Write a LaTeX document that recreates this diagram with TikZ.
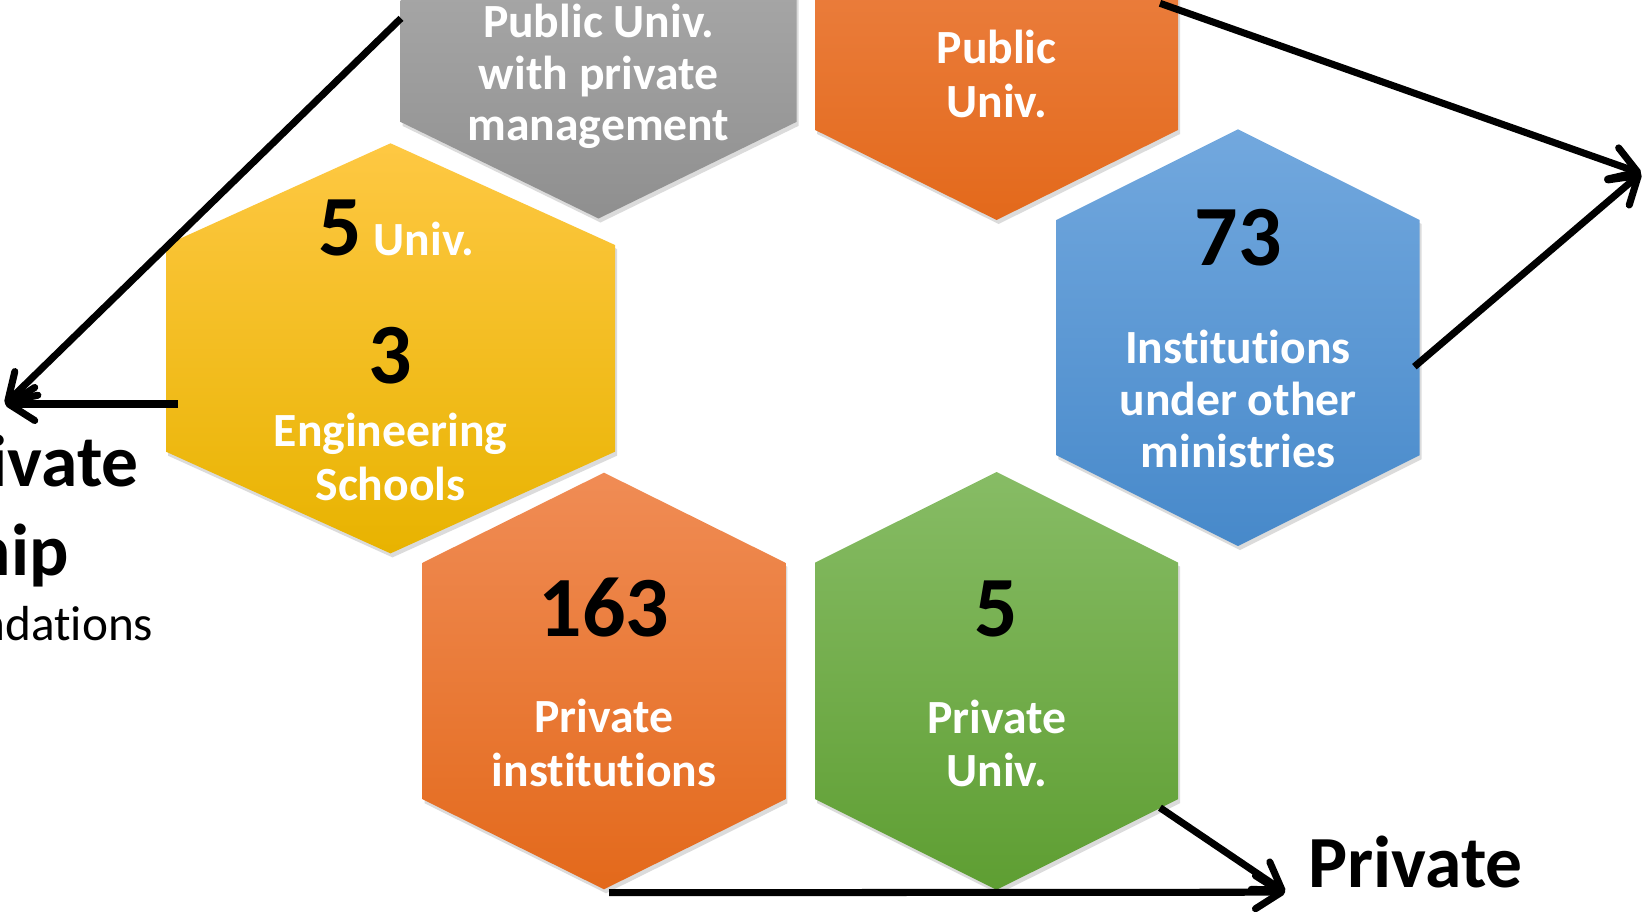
\documentclass[tikz,border=0pt]{standalone}
\usepackage{fontspec}
\setmainfont{Carlito}[Ligatures={NoCommon}]
\usetikzlibrary{arrows.meta}
\definecolor{grayT}{HTML}{BBBBBB}
\definecolor{grayB}{HTML}{8F8F8F}
\definecolor{orT}{HTML}{F08C55}
\definecolor{orM}{HTML}{F47F31}
\definecolor{orB}{HTML}{E3691B}
\definecolor{yeT}{HTML}{FEC843}
\definecolor{yeM}{HTML}{FFC505}
\definecolor{yeB}{HTML}{E8B300}
\definecolor{blT}{HTML}{72A8DE}
\definecolor{blM}{HTML}{5C9BD6}
\definecolor{blB}{HTML}{4789CA}
\definecolor{grT}{HTML}{87BC65}
\definecolor{grM}{HTML}{71AD47}
\definecolor{grB}{HTML}{5E9E32}
\tikzset{
  hexagon/.style n args={5}{insert path={(#1,#2) -- (#1+#3,#2+#4) -- (#1+#3,#2+#4+#5) -- (#1,#2+2*#4+#5) -- (#1-#3,#2+#4+#5) -- (#1-#3,#2+#4) -- cycle}},
  hexshadow/.style={fill=black, fill opacity=0.14, xshift=0.02cm, yshift=-0.04cm},
  lab/.style={font=\bfseries\fontsize{13.55}{16}\selectfont, text=white, inner sep=0pt, anchor=base},
  num/.style={font=\bfseries\fontsize{24.4}{28}\selectfont, text=black, inner sep=0pt, anchor=base},
  head/.style={font=\bfseries\fontsize{20.9}{24}\selectfont, text=black, inner sep=0pt},
  sub/.style={font=\fontsize{14}{16}\selectfont, text=black, inner sep=0pt},
  conn/.style={line width=2pt, -{Straight Barb[length=0.26cm,width=0.33cm,round]}},
}
\begin{document}
\begin{tikzpicture}[x=0.01cm, y=-0.01cm]
\useasboundingbox (0,0) rectangle (1644,912);
\fill[white] (0,0) rectangle (1644,912);
% shadows
\path[hexshadow, hexagon={598.5}{-224.7}{198}{96.6}{250}];
\path[hexshadow, hexagon={996.6}{-196.6}{181.4}{90}{236.6}];
\path[hexshadow, hexagon={390.5}{143.3}{224.5}{101.7}{206.7}];
\path[hexshadow, hexagon={1238}{129.3}{181.6}{90.7}{235.3}];
\path[hexshadow, hexagon={604}{472.7}{181.4}{90}{236.6}];
\path[hexshadow, hexagon={996.6}{472}{181.4}{90.6}{236.6}];
% hexagons
\shade[top color=grayT, bottom color=grayB, hexagon={598.5}{-224.7}{198}{96.6}{250}];
\shade[top color=orT, middle color=orM, bottom color=orB, hexagon={996.6}{-196.6}{181.4}{90}{236.6}];
\shade[top color=yeT, middle color=yeM, bottom color=yeB, hexagon={390.5}{143.3}{224.5}{101.7}{206.7}];
\shade[top color=blT, middle color=blM, bottom color=blB, hexagon={1238}{129.3}{181.6}{90.7}{235.3}];
\shade[top color=orT, middle color=orM, bottom color=orB, hexagon={604}{472.7}{181.4}{90}{236.6}];
\shade[top color=grT, middle color=grM, bottom color=grB, hexagon={996.6}{472}{181.4}{90.6}{236.6}];
% gray texts
\node[lab] (g1) at (598.5,37.5) {Public Univ.};
\node[lab] (g2) at (598.5,89.3) {with private};
\node[lab] (g3) at (598.5,140) {management};
% orange top
\node[lab] (o1) at (996.6,63.3) {Public};
\node[lab] (o2) at (996.6,117.3) {Univ.};
% yellow
\node[num] (y5) at (340,255) {5};
\node[lab, anchor=base west] (yu) at (373,255) {Univ.};
\node[num] (y3) at (390.5,383.3) {3};
\node[lab] (y1) at (390.5,446.7) {Engineering};
\node[lab] (y2) at (390.5,500) {Schools};
% blue
\node[num] (b73) at (1238,265) {73};
\node[lab] (b1) at (1238,363.3) {Institutions};
\node[lab] (b2) at (1238,415.5) {under other};
\node[lab] (b3) at (1238,467.6) {ministries};
% orange bottom
\node[num] (p163) at (604,636) {163};
\node[lab] (p1) at (604,732.7) {Private};
\node[lab] (p2) at (604,786) {institutions};
% green
\node[num] (gr5) at (996.6,636) {5};
\node[lab] (gr1) at (996.6,733.3) {Private};
\node[lab] (gr2) at (996.6,786.7) {Univ.};
% side texts
\node[head, anchor=base east] (lt1) at (139.5,486.7) {ivate};
\node[head, anchor=base east] (lt2) at (69.5,575) {hip};
\node[sub, anchor=base east] (lt3) at (154,640) {ndations};
\node[head, anchor=base west] (rt) at (1308,887.7) {Private};
% connector points
\coordinate (aGray) at (401,18.3);
\coordinate (aYel) at (178.2,404);
\coordinate (tipL) at (5.2,404);
\coordinate (aOr) at (1160,3.3);
\coordinate (aBl) at (1414.4,366.7);
\coordinate (tipR) at (1641,173.3);
\coordinate (aPi) at (609.2,892.7);
\coordinate (aGr) at (1160,807.7);
\coordinate (tipB) at (1285,892.2);
\draw[conn] (aGray) -- (tipL);
\draw[conn] (aYel) -- (tipL);
\draw[conn] (aOr) -- (tipR);
\draw[conn] (aBl) -- (tipR);
\draw[conn] (aPi) -- (tipB);
\draw[conn] (aGr) -- (tipB);
\end{tikzpicture}
\end{document}
